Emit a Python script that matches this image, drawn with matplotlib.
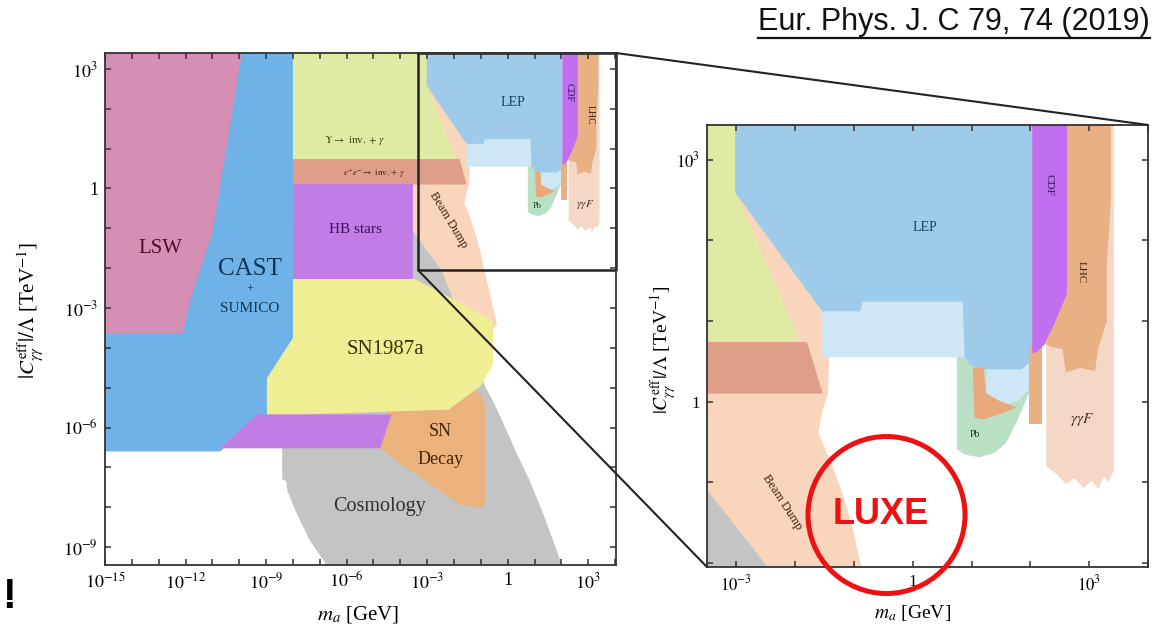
import numpy as np
import matplotlib.pyplot as plt
from matplotlib.patches import ConnectionPatch, Ellipse
from matplotlib.lines import Line2D

plt.rcParams['font.family'] = 'serif'
plt.rcParams['font.serif'] = ['Liberation Serif', 'DejaVu Serif']
plt.rcParams['mathtext.fontset'] = 'stix'

# Regiones excluidas: vértices en (log10 m_a [GeV], log10 |C|/Lambda [TeV^-1])
beam_dump = [(-3.6, 3.0), (-3.0, 3.0), (-1.45, 1.2), (-1.42, 0.55), (-1.44, 0.11), (-1.53, -0.1),
             (-1.61, -0.38), (-1.41, -0.72), (-1.2, -1.13), (-1.03, -1.55), (-0.9, -1.96),
             (-0.4, -3.4), (-0.6, -3.6), (-3.6, -3.6)]
cosmology = [(-8.4, -6.6), (-8.4, -7.3), (-8.25, -7.35), (-8.2, -7.6), (-7.9, -8.1), (-7.4, -8.8),
             (-6.9, -9.3), (-6.6, -9.6), (2.1, -9.6), (1.4, -8.3), (0.83, -7.35), (0.3, -6.6),
             (-0.03, -6.09), (-0.5, -5.4), (-0.85, -4.96), (-1.6, -3.5), (-2.47, -2.05),
             (-3.6, -1.0), (-8.4, -1.0)]
sn_decay = [(-1.5, -5.0), (-1.03, -5.14), (-0.85, -5.4), (-0.85, -7.9), (-1.0, -8.0), (-1.75, -7.95),
            (-4.01, -6.9), (-4.75, -6.52), (-4.45, -5.5)]
sn1987a = [(-9.0, -2.26), (-3.5, -2.26), (-1.4, -3.0), (-0.55, -3.32), (-0.55, -4.41), (-1.0, -4.95),
           (-2.2, -5.55), (-9.0, -5.7)]
cast = [(-15.5, 3.6), (-8.0, 3.6), (-8.0, -3.75), (-8.97, -4.76), (-8.97, -5.67), (-10.72, -6.6),
        (-15.5, -6.6)]
lsw = [(-15.5, 3.6), (-9.85, 3.6), (-9.9, 3.4), (-10.98, -1.06), (-11.83, -2.82), (-12.1, -3.65),
       (-15.5, -3.65)]
hb_strip = [(-9.34, -5.67), (-4.33, -5.67), (-4.75, -6.52), (-10.72, -6.52)]
upsilon = [(-8.0, 3.6), (-3.0, 3.6), (-3.0, 2.6), (-1.9, 0.7), (-8.0, 0.7)]
ee_inv = [(-8.0, 0.74), (-1.8, 0.74), (-1.53, 0.1), (-8.0, 0.1)]
hb_stars = [(-8.0, 0.1), (-3.53, 0.1), (-3.53, -2.28), (-8.0, -2.28)]
gg_f = [(2.27, 3.6), (3.42, 3.6), (3.42, -0.85), (3.33, -1.0), (3.25, -0.93), (3.15, -1.09),
        (3.05, -0.98), (2.9, -1.07), (2.75, -0.95), (2.6, -1.02), (2.45, -0.9), (2.27, -0.8)]
pb = [(0.75, 0.6), (1.98, 0.6), (1.98, 0.11), (1.8, -0.2), (1.59, -0.51), (1.4, -0.63),
      (1.14, -0.69), (0.9, -0.66), (0.75, -0.59)]
lep_light = [(-1.54, 1.25), (2.0, 1.25), (2.0, 0.3), (1.98, 0.15), (1.81, 0.02), (1.47, -0.06),
             (1.25, 0.09), (1.25, 0.45), (0.85, 0.55), (-1.54, 0.55)]
lep = [(-3.02, 3.6), (2.03, 3.6), (2.03, 0.6), (1.98, 0.48), (1.85, 0.40), (1.14, 0.40),
       (0.95, 0.47), (0.88, 0.56), (0.85, 1.24), (-0.85, 1.24), (-0.9, 1.12), (-1.54, 1.12),
       (-3.02, 2.59)]
pb_orange = [(1.02, 0.42), (1.2, 0.42), (1.25, 0.1), (1.5, 0.0), (1.76, -0.07), (1.5, -0.15),
             (1.2, -0.22), (1.05, -0.2)]
lhc_strip = [(1.98, 0.68), (2.2, 0.68), (2.2, -0.28), (1.98, -0.28)]
cdf = [(2.03, 3.6), (2.63, 3.6), (2.63, 1.35), (2.5, 1.0), (2.3, 0.75), (2.12, 0.62), (2.03, 0.6)]
lhc = [(2.63, 3.6), (3.37, 3.6), (3.37, 2.5), (3.3, 1.7), (3.3, 1.0), (3.15, 0.65), (3.1, 0.38),
       (2.85, 0.42), (2.6, 0.36), (2.55, 0.65), (2.35, 0.68), (2.24, 0.72), (2.4, 0.95), (2.63, 1.35)]

# orden de dibujo (de abajo a arriba) y colores
regions = [
    (beam_dump, '#f9d6bb'), (cosmology, '#c4c4c4'), (sn_decay, '#ebb27e'), (sn1987a, '#efee92'),
    (cast, '#6eb2e8'), (lsw, '#d68fb4'), (hb_strip, '#c27ce6'), (upsilon, '#dfeba3'),
    (ee_inv, '#df9e88'), (hb_stars, '#c27ce6'), (gg_f, '#f4d7c6'), (pb, '#b9dfc4'),
    (lep_light, '#cfe6f6'), (lep, '#9ecbea'), (pb_orange, '#e9a87a'), (lhc_strip, '#e9b183'),
    (cdf, '#bf6ff0'), (lhc, '#e9b183'),
]

fig = plt.figure(figsize=(11.55, 6.34), dpi=100)
ax1 = fig.add_axes([0.0909, 0.1088, 0.4424, 0.8076])
ax2 = fig.add_axes([0.6121, 0.1057, 0.3818, 0.6972])

for ax in (ax1, ax2):
    ax.set_xscale('log')
    ax.set_yscale('log')
    for pts, col in regions:
        xs = [10.0 ** p[0] for p in pts]
        ys = [10.0 ** p[1] for p in pts]
        ax.fill(xs, ys, color=col, lw=0)
    for s in ax.spines.values():
        s.set_color('#333333')
        s.set_linewidth(1.3)
    ax.tick_params(which='both', direction='in', top=True, right=True, length=4.5, width=1.1,
                   color='#333333')
    ax.xaxis.set_minor_locator(plt.NullLocator())
    ax.yaxis.set_minor_locator(plt.NullLocator())


def tick_labels(ks, shown):
    out = []
    for k in ks:
        if k not in shown:
            out.append('')
        elif k == 0:
            out.append('1')
        else:
            out.append(r'$10^{%d}$' % k)
    return out


# panel izquierdo
kx = list(range(-15, 5))
ky = list(range(-9, 4))
ax1.set_xlim(1e-15, 10 ** 4.03)
ax1.set_ylim(10 ** -9.45, 10 ** 3.4)
ax1.set_xticks([10.0 ** k for k in kx], tick_labels(kx, [-15, -12, -9, -6, -3, 0, 3]))
ax1.set_yticks([10.0 ** k for k in ky], tick_labels(ky, [-9, -6, -3, 0, 3]))
ax1.tick_params(labelsize=13, pad=5)

# panel derecho
kx2 = list(range(-3, 5))
ky2 = list(range(-2, 4))
ax2.set_xlim(10 ** -3.5, 10 ** 4.0)
ax2.set_ylim(10 ** -2.05, 10 ** 3.43)
ax2.set_xticks([10.0 ** k for k in kx2], tick_labels(kx2, [-3, 0, 3]))
ax2.set_yticks([10.0 ** k for k in ky2], tick_labels(ky2, [0, 3]))
ax2.tick_params(labelsize=12, pad=5)
ax2.minorticks_off()
ax1.minorticks_off()


def lab(ax, s, x, y, size, color, rot=0, **kw):
    ax.text(10 ** x, 10 ** y, s, fontsize=size, color=color, rotation=rot,
            ha='center', va='center', **kw)


lab(ax1, 'LSW', -12.95, -1.51, 15, '#4a1028')
lab(ax1, 'CAST', -9.6, -2.01, 18, '#0f3656')
lab(ax1, '+', -9.6, -2.55, 9, '#0f3656')
lab(ax1, 'SUMICO', -9.6, -3.0, 11, '#0f3656')
lab(ax1, r'$\Upsilon\rightarrow$ inv. $+\ \gamma$', -5.69, 1.21, 8, '#3a4010')
lab(ax1, r'$e^{+}e^{-}\rightarrow$ inv. $+\ \gamma$', -5.0, 0.38, 6.5, '#4a2010')
lab(ax1, 'HB stars', -5.69, -1.03, 11, '#3a1060')
lab(ax1, 'Beam Dump', -2.2, -0.8, 9, '#3a2010', rot=-59)
lab(ax1, 'LEP', 0.2, 2.17, 10, '#1a4060')
lab(ax1, 'CDF', 2.3, 2.4, 7, '#3a1060', rot=-90)
lab(ax1, 'LHC', 3.06, 1.84, 7, '#3a2010', rot=-90)
lab(ax1, 'Pb', 1.09, -0.45, 6, '#1a4020')
lab(ax1, r'$\gamma\gamma F$', 2.88, -0.4, 8, '#4a3020')
lab(ax1, 'SN1987a', -4.57, -4.03, 15, '#35350a')
lab(ax1, 'SN', -2.52, -6.09, 13, '#40250a')
lab(ax1, 'Decay', -2.52, -6.8, 13, '#40250a')
lab(ax1, 'Cosmology', -4.76, -7.98, 14.5, '#303030')

lab(ax2, 'LEP', 0.2, 2.16, 10, '#1a4060')
lab(ax2, 'CDF', 2.32, 2.69, 8, '#3a1060', rot=-90)
lab(ax2, 'LHC', 2.86, 1.61, 8, '#3a2010', rot=-90)
lab(ax2, 'Pb', 1.05, -0.41, 7, '#1a4020')
lab(ax2, r'$\gamma\gamma F$', 2.88, -0.22, 11, '#4a3020')
lab(ax2, 'Beam Dump', -2.22, -1.25, 9, '#3a2010', rot=-57)

# etiquetas de ejes
ylab = r'$|C_{\gamma\gamma}^{\rm eff}|/\Lambda$ [TeV$^{-1}$]'
xlab = r'$m_a$ [GeV]'
fig.text(0.027, 0.511, ylab, rotation=90, ha='center', va='center', fontsize=15)
fig.text(0.310, 0.030, xlab, ha='center', va='center', fontsize=15)
fig.text(0.5745, 0.448, ylab, rotation=90, ha='center', va='center', fontsize=14)
fig.text(0.790, 0.033, xlab, ha='center', va='center', fontsize=14)

# recuadro de zoom y líneas de conexión
bx0, by0 = 10 ** -3.34, 10 ** -2.05
bx1, by1 = ax1.get_xlim()[1], ax1.get_ylim()[1]
ax1.plot([bx0, bx0, bx1, bx1, bx0], [by1, by0, by0, by1, by1], color='#222222', lw=1.8,
         clip_on=False)
c1 = ConnectionPatch(xyA=(1, 1), coordsA=ax1.transAxes, xyB=(1, 1), coordsB=ax2.transAxes,
                     color='#222222', lw=1.5)
c2 = ConnectionPatch(xyA=(bx0, by0), coordsA=ax1.transData, xyB=(0, 0), coordsB=ax2.transAxes,
                     color='#222222', lw=1.5)
fig.add_artist(c1)
fig.add_artist(c2)

# LUXE
W, H = 1155.0, 634.0
fig.add_artist(Ellipse((886.5 / W, 1 - 515 / H), 157 / W, 157 / H, transform=fig.transFigure,
                       fill=False, edgecolor='#ee1111', lw=3.6))
fig.text(881 / W, 1 - 514 / H, 'LUXE', family='Liberation Sans', weight='bold', fontsize=26,
         color='#ee1111', ha='center', va='center')

fig.text(9 / W, 1 - 597 / H, '!', family='Liberation Sans', weight='bold', fontsize=30,
         color='black', ha='center', va='center')

ref = fig.text(1150 / W, 1 - 30 / H, 'Eur. Phys. J. C 79, 74 (2019)', family='Liberation Sans',
               fontsize=22, color='#111111', ha='right', va='baseline')
fig.canvas.draw()
bb = ref.get_window_extent(fig.canvas.get_renderer())
fig.add_artist(Line2D([bb.x0 / W, bb.x1 / W], [1 - 38 / H, 1 - 38 / H], transform=fig.transFigure,
                      color='#111111', lw=1.6))

fig.savefig('out.png', dpi=100)
